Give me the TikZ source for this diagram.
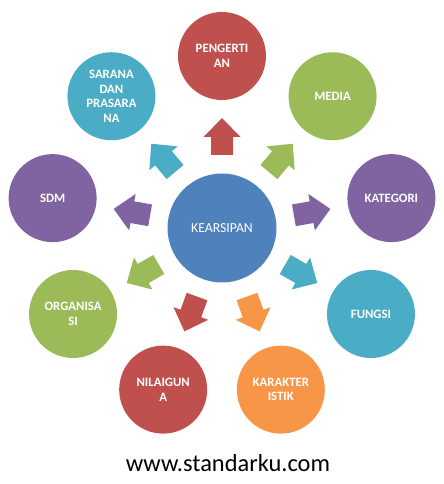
\documentclass[tikz,border=0pt]{standalone}
\usepackage{fontspec}
\setmainfont{Carlito}
\usetikzlibrary{calc}
\definecolor{cred}{HTML}{C0504D}
\definecolor{cgreen}{HTML}{9BBB59}
\definecolor{cpurple}{HTML}{8064A2}
\definecolor{cteal}{HTML}{4BACC6}
\definecolor{corange}{HTML}{F79646}
\definecolor{cblue}{HTML}{4F81BD}
\begin{document}
\begin{tikzpicture}[x=1bp,y=1bp,
  outerc/.style={circle,minimum size=88bp,inner sep=0pt,text=white,align=center,
    font=\bfseries\fontsize{12.8}{14.5}\selectfont},
  hubc/.style={circle,minimum size=109bp,inner sep=0pt,fill=cblue,text=white,
    font=\fontsize{13.8}{16}\selectfont}]
\useasboundingbox (0,0) rectangle (444,484);
\node[hubc] (hub) at (222,256) {KEARSIPAN};
\foreach \ang/\col/\txt/\nm in {
  90/cred/{PENGERTI\\AN}/pengertian,
  50/cgreen/{MEDIA}/media,
  10/cpurple/{KATEGORI}/kategori,
  -30/cteal/{FUNGSI}/fungsi,
  -70/corange/{KARAKTER\\ISTIK}/karakteristik,
  -110/cred/{NILAIGUN\\A}/nilaiguna,
  -150/cgreen/{ORGANISA\\SI}/organisasi,
  170/cpurple/{SDM}/sdm,
  130/cteal/{SARANA\\DAN\\PRASARA\\NA}/sarana} {
  \node[outerc,fill=\col] (\nm) at ($(hub.center)+(\ang:172)$) {\txt};
  \begin{scope}[shift={(hub.center)},rotate=\ang]
    \fill[\col] (73,-11) -- (91,-11) -- (91,-18.5) -- (110,0) -- (91,18.5) -- (91,11) -- (73,11) -- cycle;
  \end{scope}
}
\node[font=\fontsize{24.5}{28}\selectfont,text=black,anchor=base] (site) at (228,12) {www.standarku.com};
\end{tikzpicture}
\end{document}
